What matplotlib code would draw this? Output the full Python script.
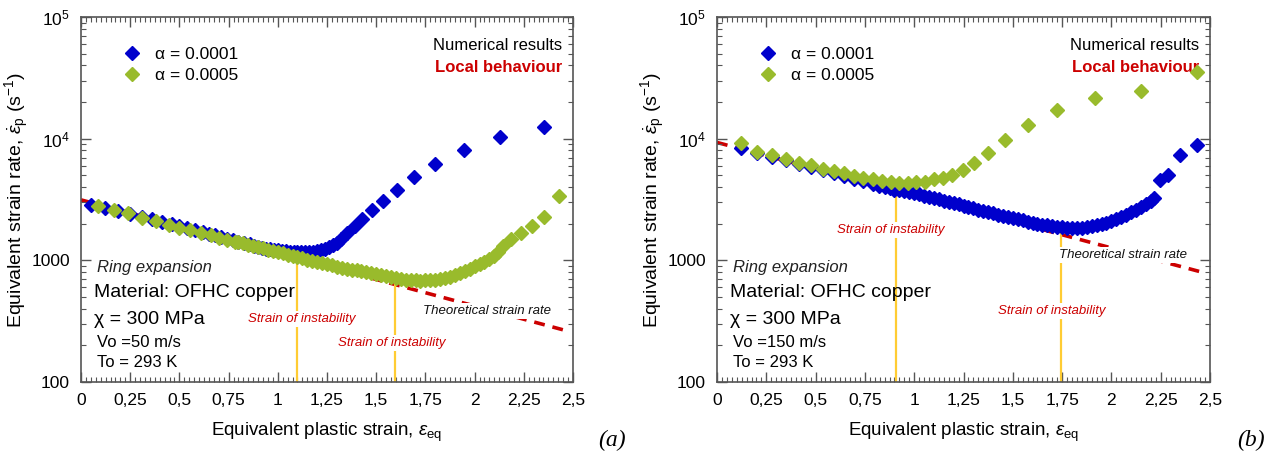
import numpy as np
import matplotlib
matplotlib.use("Agg")
import matplotlib.pyplot as plt
from matplotlib.ticker import FixedLocator, MultipleLocator, LogLocator, NullFormatter

plt.rcParams['font.family'] = ['Liberation Sans', 'DejaVu Sans']
plt.rcParams['mathtext.fontset'] = 'custom'
plt.rcParams['mathtext.rm'] = 'Liberation Sans'
plt.rcParams['mathtext.it'] = 'Liberation Sans:italic'

BLUE = '#0000cc'
GREEN = '#99bb2c'
RED = '#cc0000'
YELLOW = '#ffcc33'

# ---------------- panel (a): Vo = 50 m/s ----------------
a_blue_x = [0.05, 0.12, 0.19, 0.25, 0.31, 0.36, 0.41, 0.46, 0.50, 0.54, 0.58, 0.62, 0.65,
            0.68, 0.71, 0.74, 0.77, 0.80, 0.83, 0.86, 0.88, 0.90, 0.92, 0.94, 0.96, 0.98,
            1.00, 1.02, 1.04, 1.06, 1.08, 1.10, 1.12, 1.14, 1.16, 1.18, 1.20, 1.22, 1.24,
            1.26, 1.28, 1.30, 1.32, 1.35, 1.39, 1.43, 1.48, 1.535, 1.605, 1.69, 1.80,
            1.945, 2.13, 2.355]
a_blue_y = [2870, 2700, 2560, 2420, 2290, 2180, 2080, 1990, 1910, 1840, 1770, 1700, 1650,
            1600, 1555, 1510, 1465, 1425, 1385, 1350, 1310, 1285, 1265, 1245, 1230, 1215,
            1205, 1195, 1185, 1180, 1175, 1170, 1170, 1170, 1172, 1180, 1195, 1215, 1245,
            1285, 1335, 1400, 1500, 1680, 1900, 2190, 2580, 3080, 3780, 4800, 6170,
            8000, 10350, 12450]

a_green_x = [0.085, 0.17, 0.24, 0.31, 0.38, 0.445, 0.50, 0.555, 0.61, 0.66, 0.70, 0.74, 0.78,
             0.80, 0.825, 0.85, 0.875, 0.90, 0.925, 0.95, 0.975, 1.00, 1.025, 1.05, 1.075,
             1.10, 1.125, 1.15, 1.175, 1.20, 1.225, 1.25, 1.275, 1.30, 1.325, 1.35, 1.375,
             1.40, 1.425, 1.45, 1.475, 1.50, 1.525, 1.55, 1.575, 1.60, 1.625, 1.65, 1.675,
             1.70, 1.725, 1.75, 1.775, 1.80, 1.825, 1.85, 1.875, 1.90, 1.925, 1.95, 1.975,
             2.00, 2.025, 2.05, 2.075, 2.10, 2.12, 2.145, 2.185, 2.237, 2.294, 2.353, 2.431]
a_green_y = [2800, 2600, 2440, 2240, 2090, 1960, 1860, 1760, 1675, 1600, 1540, 1480, 1425,
             1410, 1380, 1348, 1316, 1285, 1255, 1225, 1196, 1168, 1140, 1113, 1087,
             1062, 1038, 1014, 991, 969, 948, 928, 908, 889, 870, 852, 840,
             830, 815, 800, 786, 773, 760, 742, 728, 715, 704, 695, 688,
             684, 682, 683, 687, 694, 703, 715, 730, 760, 788, 818, 852,
             890, 930, 975, 1030, 1090, 1160, 1315, 1493, 1672, 1932, 2266, 3350]

a_theory_x = [0.0, 2.47]
a_theory_y = [3140, 263]
a_instab_x = [1.10, 1.595]
a_instab_top = [1075, 665]

# ---------------- panel (b): Vo = 150 m/s ----------------
b_blue_x = [0.12, 0.205, 0.277, 0.349, 0.414, 0.478, 0.537, 0.591, 0.642, 0.693, 0.742,
            0.79, 0.82, 0.85, 0.875, 0.90, 0.925,
            0.950, 0.975, 1.000, 1.025, 1.050, 1.075, 1.100, 1.125, 1.150, 1.175, 1.200,
            1.225, 1.250, 1.275, 1.300, 1.325, 1.350, 1.375, 1.400, 1.425, 1.450, 1.475,
            1.500, 1.525, 1.550, 1.575, 1.600, 1.625, 1.650, 1.675, 1.700, 1.725, 1.750,
            1.775, 1.800, 1.825, 1.850, 1.875, 1.900, 1.925, 1.950, 1.975, 2.000, 2.025,
            2.050, 2.075, 2.100, 2.125, 2.150, 2.175, 2.200, 2.215,
            2.244, 2.289, 2.350, 2.436]
b_blue_y = [8430, 7650, 7120, 6620, 6200, 5820, 5480, 5190, 4930, 4680, 4460,
            4250, 4120, 4000, 3900, 3810, 3750,
            3700, 3630, 3560, 3480, 3400, 3325, 3250, 3175, 3100, 3030, 2960,
            2890, 2820, 2750, 2680, 2615, 2550, 2490, 2430, 2375, 2320, 2270,
            2220, 2175, 2130, 2085, 2040, 2005, 1970, 1940, 1910, 1885, 1865,
            1852, 1847, 1847, 1855, 1872, 1900, 1940, 1990, 2040, 2100, 2180,
            2270, 2370, 2480, 2610, 2740, 2890, 3050, 3250,
            4540, 5020, 7300, 8810]

b_green_x = [0.123, 0.205, 0.277, 0.349, 0.414, 0.478, 0.537, 0.591, 0.642, 0.693, 0.742,
             0.790, 0.837, 0.882, 0.923, 0.968, 1.011, 1.056, 1.099, 1.144, 1.194, 1.245,
             1.304, 1.374, 1.460, 1.575, 1.723, 1.918, 2.149, 2.434]
b_green_y = [9160, 7820, 7290, 6760, 6345, 6030, 5660, 5380, 5180, 4920, 4740,
             4620, 4480, 4400, 4340, 4340, 4400, 4420, 4620, 4710, 5020, 5520,
             6260, 7570, 9750, 12970, 17230, 21480, 24700, 35000]

b_theory_x = [0.0, 2.48]
b_theory_y = [9310, 783]
b_instab_x = [0.91, 1.745]
b_instab_top = [3700, 1690]

x_ticks = [0, 0.25, 0.5, 0.75, 1, 1.25, 1.5, 1.75, 2, 2.25, 2.5]
x_tick_labels = ['0', '0,25', '0,5', '0,75', '1', '1,25', '1,5', '1,75', '2', '2,25', '2,5']
y_ticks = [100, 1000, 1e4, 1e5]
y_tick_labels = ['100', '1000', r'$10^4$', r'$10^5$']


def draw_panel(ax, blue_x, blue_y, green_x, green_y, th_x, th_y, inst_x, inst_top,
               vo_text, inst_text_pos, theo_text_pos):
    # theoretical strain rate
    ax.plot(th_x, th_y, color=RED, lw=2.6, ls=(0, (3.0, 2.2)), zorder=1)
    # strains of instability
    for xv, top in zip(inst_x, inst_top):
        ax.plot([xv, xv], [100, top], color=YELLOW, lw=1.6, zorder=2)
    ax.plot(blue_x, blue_y, ls='none', marker='D', ms=7.4, color=BLUE, mec=BLUE,
            zorder=3, label=u'\u03b1 = 0.0001')
    ax.plot(green_x, green_y, ls='none', marker='D', ms=7.4, color=GREEN, mec=GREEN,
            zorder=4, label=u'\u03b1 = 0.0005')

    ax.set_yscale('log')
    ax.set_xlim(0, 2.5)
    ax.set_ylim(100, 1e5)
    ax.xaxis.set_major_locator(FixedLocator(x_ticks))
    ax.set_xticklabels(x_tick_labels)
    ax.xaxis.set_minor_locator(MultipleLocator(0.025))
    ax.yaxis.set_major_locator(FixedLocator(y_ticks))
    ax.set_yticklabels(y_tick_labels)
    ax.yaxis.set_minor_locator(LogLocator(base=10, subs=np.arange(2, 10)))
    ax.yaxis.set_minor_formatter(NullFormatter())
    ax.tick_params(which='both', direction='in', top=True, right=True, color='#555555')
    ax.tick_params(which='major', length=7, width=1.0, labelsize=12.5, pad=8)
    ax.tick_params(which='minor', length=3.5, width=0.8)
    for sp in ax.spines.values():
        sp.set_color('#555555')
        sp.set_linewidth(1.2)

    ax.set_xlabel(r'Equivalent plastic strain, $\varepsilon_{\rm eq}$', fontsize=13.5,
                  labelpad=9)
    ax.set_ylabel(r'Equivalent strain rate, $\dot{\varepsilon}_{\rm p}$ (s$^{-1}$)',
                  fontsize=14, labelpad=0)

    ax.legend(loc='upper left', bbox_to_anchor=(0.055, 0.955), frameon=False,
              fontsize=12.5, handletextpad=0.7, labelspacing=0.3, borderpad=0.3,
              handlelength=1.2)

    ax.text(0.978, 0.923, 'Numerical results', transform=ax.transAxes, ha='right',
            va='center', fontsize=12, color='black')
    ax.text(0.978, 0.862, 'Local behaviour', transform=ax.transAxes, ha='right',
            va='center', fontsize=12, color=RED, fontweight='bold')

    ax.text(0.033, 0.315, 'Ring expansion', transform=ax.transAxes, fontsize=12,
            style='italic', va='center', color='#222222')
    ax.text(0.027, 0.244, 'Material: OFHC copper', transform=ax.transAxes, fontsize=14,
            va='center')
    ax.text(0.027, 0.172, u'\u03c7 = 300 MPa', transform=ax.transAxes, fontsize=14,
            va='center')
    ax.text(0.033, 0.108, vo_text, transform=ax.transAxes, fontsize=12, va='center')
    ax.text(0.033, 0.054, 'To = 293 K', transform=ax.transAxes, fontsize=12, va='center')

    bbox = dict(facecolor='white', edgecolor='none', pad=1.5)
    for (tx, ty) in inst_text_pos:
        ax.text(tx, ty, 'Strain of instability', fontsize=9.5, style='italic', color=RED,
                ha='center', va='center', bbox=bbox, zorder=5)
    ax.text(theo_text_pos[0], theo_text_pos[1], 'Theoretical strain rate', fontsize=9.5,
            style='italic', color='#111111', ha='center', va='center', bbox=bbox, zorder=5)


fig = plt.figure(figsize=(12.8, 4.61), dpi=100)
ax1 = fig.add_axes([81 / 1280, 79 / 461, 492 / 1280, 365 / 461])
ax2 = fig.add_axes([717 / 1280, 79 / 461, 493 / 1280, 365 / 461])

draw_panel(ax1, a_blue_x, a_blue_y, a_green_x, a_green_y, a_theory_x, a_theory_y,
           a_instab_x, a_instab_top, 'Vo =50 m/s',
           [(1.12, 330), (1.58, 209)], (2.065, 384))
draw_panel(ax2, b_blue_x, b_blue_y, b_green_x, b_green_y, b_theory_x, b_theory_y,
           b_instab_x, b_instab_top, 'Vo =150 m/s',
           [(0.88, 1780), (1.70, 384)], (2.06, 1107))

fig.text(612 / 1280, 1 - 440 / 461, '(a)', family='Liberation Serif', style='italic',
         fontsize=17, ha='center', va='center')
fig.text(1251 / 1280, 1 - 440 / 461, '(b)', family='Liberation Serif', style='italic',
         fontsize=17, ha='center', va='center')

fig.savefig('out.png', dpi=100)
